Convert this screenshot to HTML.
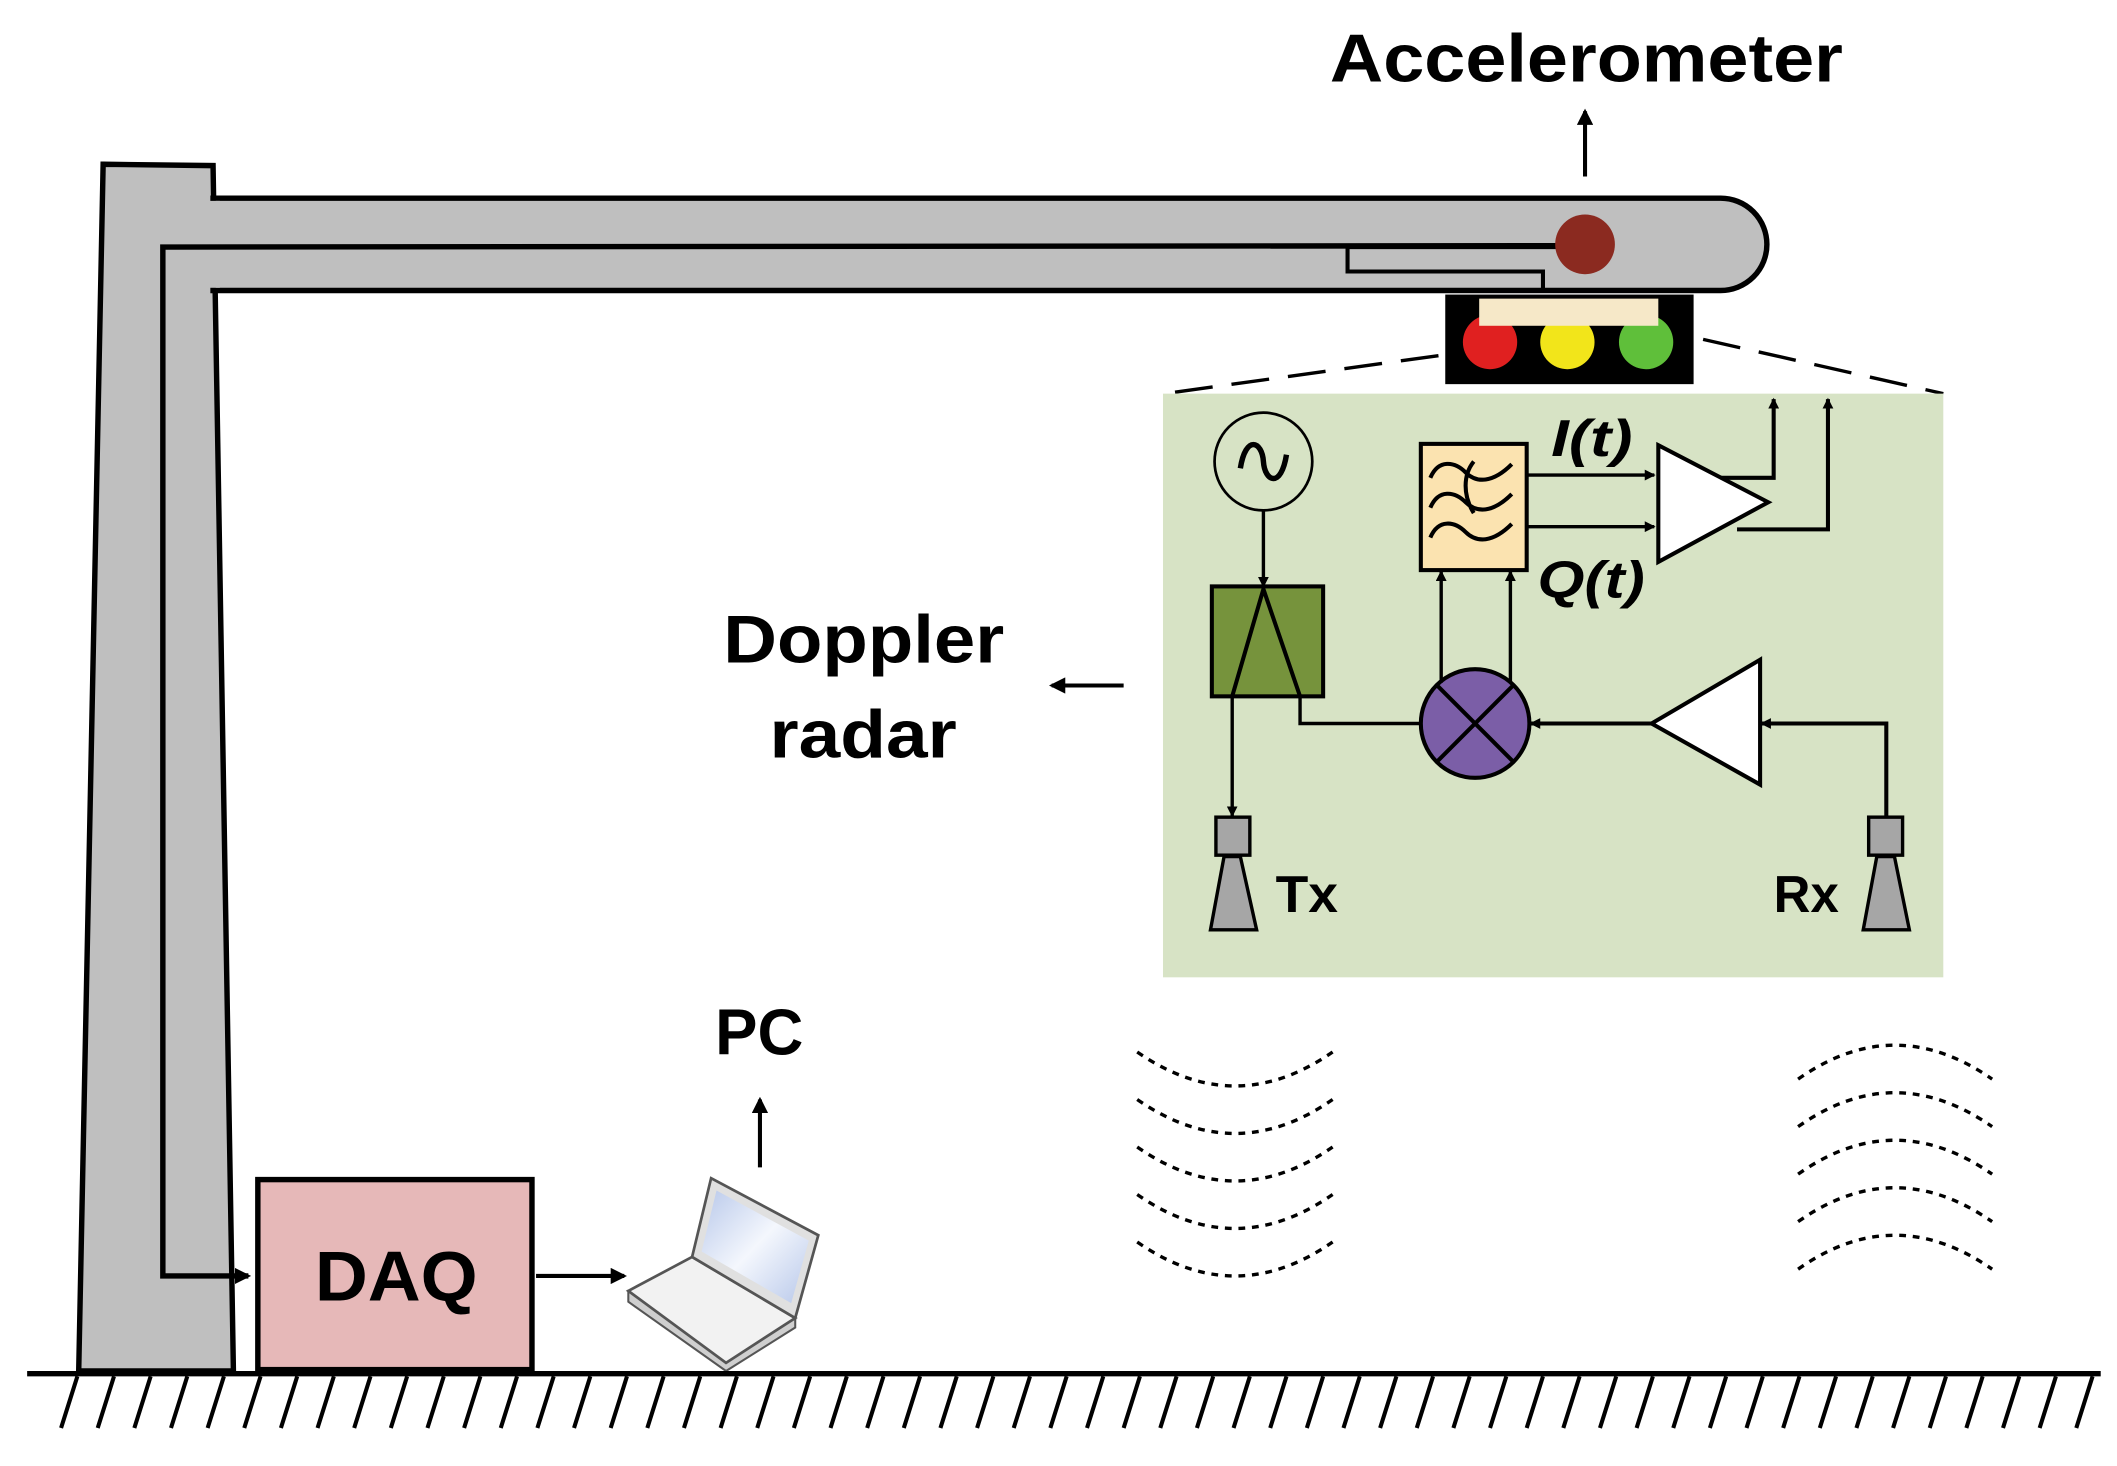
<!DOCTYPE html>
<html><head><meta charset="utf-8"><style>html,body{margin:0;padding:0;background:#fff}svg{display:block}</style></head>
<body>
<svg width="2117" height="1466" viewBox="0 0 1560 1080" preserveAspectRatio="none" xmlns="http://www.w3.org/2000/svg" font-family="Liberation Sans, sans-serif">
<defs>
<marker id="a" markerWidth="8" markerHeight="8" refX="7" refY="4" orient="auto" markerUnits="userSpaceOnUse"><path d="M0,0 L8,4 L0,8 z" fill="#000"/></marker>
<marker id="b" markerWidth="12" markerHeight="12" refX="10" refY="6" orient="auto" markerUnits="userSpaceOnUse"><path d="M0,0 L12,6 L0,12 z" fill="#000"/></marker>
<linearGradient id="scr" x1="0" y1="0" x2="1" y2="1"><stop offset="0" stop-color="#b8c8ea"/><stop offset="0.5" stop-color="#f4f7fd"/><stop offset="1" stop-color="#b8c8ea"/></linearGradient>
</defs>
<!-- pole -->
<path d="M76,121 L157,122 L172,1010 L58,1010 Z" fill="#bfbfbf" stroke="#000" stroke-width="4"/>
<!-- beam -->
<path d="M157,146 L1268,146 A34,34 0 0 1 1268,214 L157,214 Z" fill="#bfbfbf" stroke="#000" stroke-width="4"/>
<rect x="150" y="148" width="12" height="64" fill="#bfbfbf"/>
<!-- wire -->
<polyline points="1150,181 120,182 120,940 183,940" fill="none" stroke="#000" stroke-width="4" marker-end="url(#b)"/>
<polyline points="1150,182 993,182 993,200 1137,200 1137,213" fill="none" stroke="#000" stroke-width="3"/>
<circle cx="1168" cy="180" r="22" fill="#8b2a20"/>
<!-- accelerometer -->
<text x="980" y="60" font-size="50" font-weight="bold" textLength="378" lengthAdjust="spacingAndGlyphs">Accelerometer</text>
<line x1="1168" y1="130" x2="1168" y2="82" stroke="#000" stroke-width="3" marker-end="url(#b)"/>
<!-- traffic light -->
<rect x="1065" y="217" width="183" height="66" fill="#000"/>
<circle cx="1098" cy="252" r="20" fill="#e02020"/>
<circle cx="1155" cy="252" r="20" fill="#f2e51a"/>
<circle cx="1213" cy="252" r="20" fill="#5fbf3a"/>
<rect x="1090" y="220" width="132" height="20" fill="#f6e8c8"/>
<!-- dashed -->
<line x1="1060" y1="262" x2="858" y2="290" stroke="#000" stroke-width="2.5" stroke-dasharray="28,14"/>
<line x1="1255" y1="250" x2="1432" y2="290" stroke="#000" stroke-width="2.5" stroke-dasharray="28,14"/>
<!-- panel -->
<rect x="857" y="290" width="575" height="430" fill="#d7e3c5"/>
<!-- oscillator -->
<circle cx="931" cy="340" r="36" fill="none" stroke="#000" stroke-width="2"/>
<path d="M914,345 C918,320 930,325 931,340 C932,355 944,360 948,335" fill="none" stroke="#000" stroke-width="4"/>
<line x1="931" y1="376" x2="931" y2="432" stroke="#000" stroke-width="2.5" marker-end="url(#a)"/>
<rect x="893" y="432" width="82" height="81" fill="#76933c" stroke="#000" stroke-width="3"/>
<polyline points="908,513 931,434 958,513" fill="none" stroke="#000" stroke-width="3"/>
<line x1="908" y1="513" x2="908" y2="601" stroke="#000" stroke-width="2.5" marker-end="url(#a)"/>
<polyline points="958,513 958,533 1047,533" fill="none" stroke="#000" stroke-width="2.5"/>
<!-- Tx antenna -->
<rect x="896" y="602" width="25" height="28" fill="#a6a6a6" stroke="#000" stroke-width="2.5"/>
<path d="M902,631 L914,631 L926,685 L892,685 Z" fill="#a6a6a6" stroke="#000" stroke-width="2.5"/>
<text x="940" y="672" font-size="38" font-weight="bold" textLength="46" lengthAdjust="spacingAndGlyphs">Tx</text>
<!-- Rx antenna -->
<rect x="1377" y="602" width="25" height="28" fill="#a6a6a6" stroke="#000" stroke-width="2.5"/>
<path d="M1383,631 L1396,631 L1407,685 L1373,685 Z" fill="#a6a6a6" stroke="#000" stroke-width="2.5"/>
<text x="1307" y="672" font-size="38" font-weight="bold" textLength="48" lengthAdjust="spacingAndGlyphs">Rx</text>
<!-- mixer -->
<ellipse cx="1087" cy="533" rx="40" ry="40" fill="#7b5ea7" stroke="#000" stroke-width="3"/>
<line x1="1059" y1="505" x2="1115" y2="561" stroke="#000" stroke-width="3"/>
<line x1="1115" y1="505" x2="1059" y2="561" stroke="#000" stroke-width="3"/>
<line x1="1062" y1="503" x2="1062" y2="421" stroke="#000" stroke-width="2.5" marker-end="url(#a)"/>
<line x1="1113" y1="503" x2="1113" y2="421" stroke="#000" stroke-width="2.5" marker-end="url(#a)"/>
<!-- filter -->
<rect x="1047" y="327" width="78" height="93" fill="#fbe3b0" stroke="#000" stroke-width="3"/>
<path d="M1054,352 C1060,338 1072,340 1080,348 C1088,356 1100,356 1114,342 M1054,374 C1060,360 1072,362 1080,370 C1088,378 1100,378 1114,364 M1054,396 C1060,382 1072,384 1080,392 C1088,400 1100,400 1114,386 M1086,340 C1078,350 1078,365 1086,378" fill="none" stroke="#000" stroke-width="3"/>
<line x1="1125" y1="350" x2="1219" y2="350" stroke="#000" stroke-width="2.5" marker-end="url(#a)"/>
<line x1="1125" y1="388" x2="1219" y2="388" stroke="#000" stroke-width="2.5" marker-end="url(#a)"/>
<text x="1143" y="336" font-size="38" font-weight="bold" font-style="italic" textLength="60" lengthAdjust="spacingAndGlyphs">I(t)</text>
<text x="1133" y="440" font-size="38" font-weight="bold" font-style="italic" textLength="79" lengthAdjust="spacingAndGlyphs">Q(t)</text>
<!-- IF amp -->
<path d="M1222,328 L1303,370 L1222,414 Z" fill="#fff" stroke="#000" stroke-width="3"/>
<polyline points="1268,352 1307,352 1307,294" fill="none" stroke="#000" stroke-width="3" marker-end="url(#a)"/>
<polyline points="1280,390 1347,390 1347,294" fill="none" stroke="#000" stroke-width="3" marker-end="url(#a)"/>
<!-- LNA -->
<path d="M1297,486 L1217,533 L1297,578 Z" fill="#fff" stroke="#000" stroke-width="3"/>
<line x1="1217" y1="533" x2="1128" y2="533" stroke="#000" stroke-width="3" marker-end="url(#a)"/>
<polyline points="1390,601 1390,533 1298,533" fill="none" stroke="#000" stroke-width="3" marker-end="url(#a)"/>
<!-- Doppler radar -->
<text x="533" y="488" font-size="50" font-weight="bold" textLength="207" lengthAdjust="spacingAndGlyphs">Doppler</text>
<text x="567" y="558" font-size="50" font-weight="bold" textLength="138" lengthAdjust="spacingAndGlyphs">radar</text>
<line x1="828" y1="505" x2="775" y2="505" stroke="#000" stroke-width="3" marker-end="url(#b)"/>
<!-- PC -->
<text x="527" y="777" font-size="48" font-weight="bold" textLength="65" lengthAdjust="spacingAndGlyphs">PC</text>
<line x1="560" y1="860" x2="560" y2="810" stroke="#000" stroke-width="3" marker-end="url(#b)"/>
<!-- DAQ -->
<rect x="190" y="869" width="202" height="140" fill="#e6b8b8" stroke="#000" stroke-width="4"/>
<text x="232" y="958" font-size="52" font-weight="bold" textLength="120" lengthAdjust="spacingAndGlyphs">DAQ</text>
<line x1="395" y1="940" x2="460" y2="940" stroke="#000" stroke-width="3" marker-end="url(#b)"/>
<!-- laptop -->
<path d="M463,951 L463,959 L535,1010 L586,978 L586,971 Z" fill="#cfcfcf" stroke="#555" stroke-width="1.5"/>
<path d="M510,926 L463,951 L535,1004 L586,971 Z" fill="#f2f2f2" stroke="#555" stroke-width="2"/>
<path d="M524,868 L603,910 L586,971 L510,926 Z" fill="#e0e0e0" stroke="#555" stroke-width="2"/>
<path d="M528,877 L596,914 L583,960 L517,922 Z" fill="url(#scr)"/>
<!-- waves -->
<g fill="none" stroke="#000" stroke-width="2.5" stroke-dasharray="5,5">
<path d="M838,775 Q910,825 982,775"/><path d="M838,810 Q910,860 982,810"/><path d="M838,845 Q910,895 982,845"/><path d="M838,880 Q910,930 982,880"/><path d="M838,915 Q910,965 982,915"/>
<path d="M1325,795 Q1396,745 1468,795"/><path d="M1325,830 Q1396,780 1468,830"/><path d="M1325,865 Q1396,815 1468,865"/><path d="M1325,900 Q1396,850 1468,900"/><path d="M1325,935 Q1396,885 1468,935"/>
</g>
<!-- ground -->
<line x1="20" y1="1012" x2="1548" y2="1012" stroke="#000" stroke-width="4"/>
<g stroke="#000" stroke-width="3">
<path d="M45,1052 L57,1014 M72,1052 L84,1014 M99,1052 L111,1014 M126,1052 L138,1014 M153,1052 L165,1014 M180,1052 L192,1014 M207,1052 L219,1014 M234,1052 L246,1014 M261,1052 L273,1014 M288,1052 L300,1014 M315,1052 L327,1014 M342,1052 L354,1014 M369,1052 L381,1014 M396,1052 L408,1014 M423,1052 L435,1014 M450,1052 L462,1014 M477,1052 L489,1014 M504,1052 L516,1014 M531,1052 L543,1014 M558,1052 L570,1014 M585,1052 L597,1014 M612,1052 L624,1014 M639,1052 L651,1014 M666,1052 L678,1014 M693,1052 L705,1014 M720,1052 L732,1014 M747,1052 L759,1014 M774,1052 L786,1014 M801,1052 L813,1014 M828,1052 L840,1014 M855,1052 L867,1014 M882,1052 L894,1014 M909,1052 L921,1014 M936,1052 L948,1014 M963,1052 L975,1014 M990,1052 L1002,1014 M1017,1052 L1029,1014 M1044,1052 L1056,1014 M1071,1052 L1083,1014 M1098,1052 L1110,1014 M1125,1052 L1137,1014 M1152,1052 L1164,1014 M1179,1052 L1191,1014 M1206,1052 L1218,1014 M1233,1052 L1245,1014 M1260,1052 L1272,1014 M1287,1052 L1299,1014 M1314,1052 L1326,1014 M1341,1052 L1353,1014 M1368,1052 L1380,1014 M1395,1052 L1407,1014 M1422,1052 L1434,1014 M1449,1052 L1461,1014 M1476,1052 L1488,1014 M1503,1052 L1515,1014 M1530,1052 L1542,1014"/>
</g>
</svg>
</body></html>
